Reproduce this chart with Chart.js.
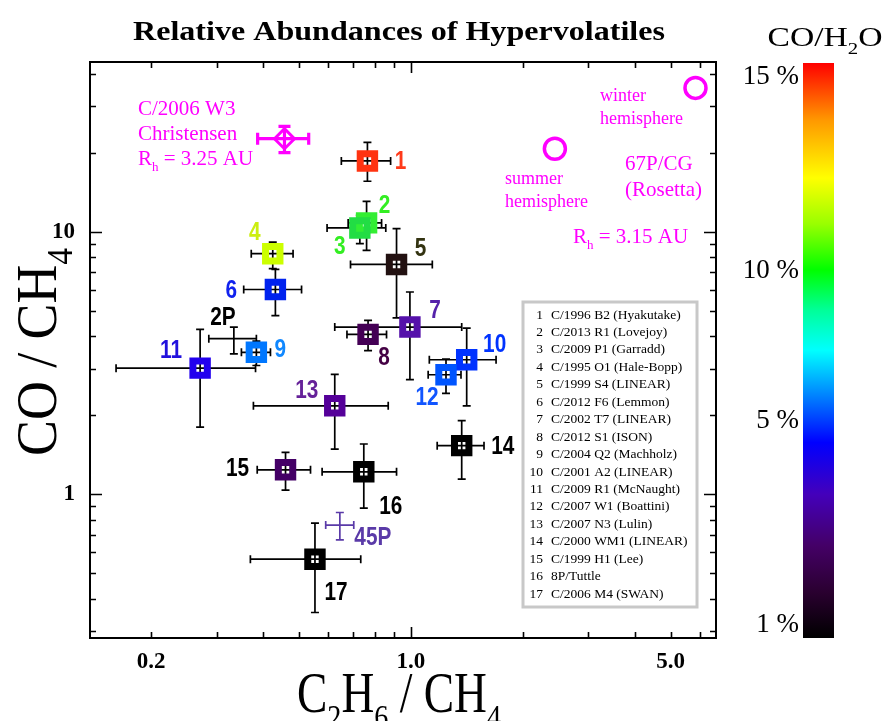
<!DOCTYPE html>
<html><head><meta charset="utf-8">
<script src="https://cdn.jsdelivr.net/npm/chart.js@4.4.0/dist/chart.umd.min.js"></script>
<style>html,body{margin:0;padding:0;background:#fff;}#wrap{width:886px;height:721px;position:relative;}</style>
</head><body><div id="wrap"><canvas id="c" width="886" height="721"></canvas></div>
<script>
// ---------------- DATA ----------------
const cometIds = ['1','2','3','4','5','6','7','8','9','10','11','12','13','14','15','16','17'];
const cometNames = ['C/1996 B2 (Hyakutake)','C/2013 R1 (Lovejoy)','C/2009 P1 (Garradd)','C/1995 O1 (Hale-Bopp)',
  'C/1999 S4 (LINEAR)','C/2012 F6 (Lemmon)','C/2002 T7 (LINEAR)','C/2012 S1 (ISON)','C/2004 Q2 (Machholz)',
  'C/2001 A2 (LINEAR)','C/2009 R1 (McNaught)','C/2007 W1 (Boattini)','C/2007 N3 (Lulin)','C/2000 WM1 (LINEAR)',
  'C/1999 H1 (Lee)','8P/Tuttle','C/2006 M4 (SWAN)'];
const c2h6   = [0.764,0.760,0.729,0.425,0.915,0.432,0.994,0.767,0.384,1.413,0.271,1.243,0.624,1.370,0.460,0.747,0.552];
const c2h6Lo = [0.650,0.678,0.595,0.372,0.688,0.355,0.624,0.673,0.350,1.121,0.161,1.113,0.377,1.177,0.386,0.577,0.370];
const c2h6Hi = [0.882,0.834,0.856,0.482,1.142,0.508,1.370,0.860,0.419,1.695,0.382,1.364,0.869,1.573,0.537,0.915,0.733];
const coCh4   = [18.6,10.8,10.33,8.24,7.50,6.02,4.33,4.06,3.47,3.25,3.02,2.85,2.17,1.53,1.238,1.216,0.565];
const coCh4Lo = [15.56,8.48,9.00,7.23,4.69,4.79,2.73,3.52,3.09,2.17,1.80,2.42,1.485,1.141,1.036,0.884,0.354];
const coCh4Hi = [21.9,13.05,11.54,9.13,10.27,7.18,5.89,4.59,3.83,4.29,4.24,3.27,2.86,1.905,1.443,1.552,0.775];

const extraIds = ['2P','45P'];
const extraX   = [0.334,0.644];
const extraXLo = [0.286,0.590];
const extraXHi = [0.384,0.702];
const extraY   = [3.91,0.762];
const extraYLo = [3.42,0.669];
const extraYHi = [4.33,0.851];

const christensenLines = ['C/2006 W3','Christensen'];
const christX = [0.457], christXLo = [0.387], christXHi = [0.531];
const christY = [22.6],  christYLo = [20.0],  christYHi = [25.2];

const rosettaNames = ['summer hemisphere','winter hemisphere'];
const rosettaX = [2.44,5.83];
const rosettaY = [20.7,35.3];

const xTickValues = [0.2,0.3,0.4,0.5,0.6,0.7,0.8,0.9,1,2,3,4,5,6];
const xTickLabels = {0.2:'0.2',1:'1.0',5:'5.0'};
const yTickValues = [0.3,0.4,0.5,0.6,0.7,0.8,0.9,1,2,3,4,5,6,7,8,9,10,20,30,40];
const yTickLabels = {1:'1',10:'10'};
const colorbarTickLabels = ['1 %','5 %','10 %','15 %'];

// ---------------- STYLE ----------------
const W = 886, H = 721;
const AREA = {left:90, right:716, top:62, bottom:638};
const serif = "'Liberation Serif','Times New Roman',serif";
const sans = "'Liberation Sans',Arial,sans-serif";
const MAG = '#ff00ff';
const markerColors = ['#ff3311','#33ee33','#22dd44','#ccff00','#221111','#0022ee','#5511aa','#440055','#0077ff',
  '#0033ff','#2200ee','#0055ff','#550099','#000000','#440066','#000000','#000000'];
const labelColors = ['#ff3a1a','#33ee22','#33ee22','#ccee11','#333311','#1122ee','#5522aa','#440044','#1188ff',
  '#0033ff','#2211dd','#1155ff','#662299','#000000','#000000','#000000','#000000'];
const labelOffsets = [[33,0],[18,-18],[-20,18],[-18,-22],[24,-17],[-44,0],[25,-17],[16,22],[24,-3],[28,-16],
  [-29,-18],[-19,22],[-28,-16],[41,0],[-48,-2],[27,34],[21,33]];
const extraColors = ['#000000','#5a3aa8'];
const extraOffsets = [[-11,-22],[33,12]];
const cbar = {left:803, right:834, top:63, bottom:638};
const cbarFrac = [0.022,0.378,0.639,0.975];
const cbarStops = [[0,'#000000'],[0.08,'#2a0030'],[0.16,'#440066'],[0.25,'#4400bb'],[0.34,'#0000ff'],[0.42,'#0080ff'],
  [0.50,'#00ffff'],[0.57,'#00ff99'],[0.64,'#00ff00'],[0.72,'#99ff00'],[0.80,'#ffff00'],[0.90,'#ff9900'],[1,'#ff0000']];

function drawParts(ctx, parts, x, y, size, o) {
  ctx.save();
  const wt = o.bold ? 'bold ' : '';
  let w = 0; const meas = [];
  for (const [t, k] of parts) {
    const s = k === 'sub' ? size * 0.62 : size;
    ctx.font = wt + s + 'px ' + o.family;
    const m = ctx.measureText(t).width; meas.push([t, k, s, m]); w += m;
  }
  const sx = o.width ? o.width / w : (o.sx || 1);
  ctx.translate(x, y); if (o.rotate) ctx.rotate(o.rotate);
  ctx.scale(sx, 1);
  let cx = o.align === 'left' ? 0 : (o.align === 'right' ? -w : -w / 2);
  ctx.textBaseline = 'alphabetic'; ctx.textAlign = 'left'; ctx.fillStyle = o.color || '#000';
  for (const [t, k, s, m] of meas) {
    ctx.font = wt + s + 'px ' + o.family;
    ctx.fillText(t, cx, k === 'sub' ? size * 0.28 : 0); cx += m;
  }
  ctx.restore();
}

const errorBars = {
  id: 'errorBars',
  beforeDatasetsDraw(chart) {
    const ctx = chart.ctx, xs = chart.scales.x, ys = chart.scales.y;
    chart.data.datasets.forEach(ds => {
      if (!ds.err) return;
      ctx.save();
      ctx.lineWidth = ds.errWidth; ctx.lineCap = 'butt';
      ds.data.forEach((p, i) => {
        ctx.strokeStyle = Array.isArray(ds.errColor) ? ds.errColor[i] : ds.errColor;
        const px = xs.getPixelForValue(p.x), py = ys.getPixelForValue(p.y);
        const x0 = xs.getPixelForValue(ds.err.xLo[i]), x1 = xs.getPixelForValue(ds.err.xHi[i]);
        const y0 = ys.getPixelForValue(ds.err.yLo[i]), y1 = ys.getPixelForValue(ds.err.yHi[i]);
        const c = ds.cap;
        ctx.beginPath();
        ctx.moveTo(x0, py); ctx.lineTo(x1, py);
        ctx.moveTo(px, y0); ctx.lineTo(px, y1);
        ctx.moveTo(x0, py - c); ctx.lineTo(x0, py + c);
        ctx.moveTo(x1, py - c); ctx.lineTo(x1, py + c);
        ctx.moveTo(px - c, y0); ctx.lineTo(px + c, y0);
        ctx.moveTo(px - c, y1); ctx.lineTo(px + c, y1);
        ctx.stroke();
      });
      ctx.restore();
    });
  }
};

const decorations = {
  id: 'decorations',
  afterDatasetsDraw(chart) {
    const ctx = chart.ctx, xs = chart.scales.x, ys = chart.scales.y;
    ctx.save();
    const lab = (t, x, y, col) => {
      ctx.save(); ctx.translate(x, y); ctx.scale(0.8, 1);
      ctx.font = 'bold 26px ' + sans; ctx.textAlign = 'center'; ctx.textBaseline = 'middle';
      ctx.fillStyle = col; ctx.fillText(t, 0, 1); ctx.restore();
    };
    cometIds.forEach((t, i) => {
      lab(t, xs.getPixelForValue(c2h6[i]) + labelOffsets[i][0], ys.getPixelForValue(coCh4[i]) + labelOffsets[i][1], labelColors[i]);
    });
    extraIds.forEach((t, i) => {
      lab(t, xs.getPixelForValue(extraX[i]) + extraOffsets[i][0], ys.getPixelForValue(extraY[i]) + extraOffsets[i][1], extraColors[i]);
    });
    ctx.restore();
    ctx.save();
    ctx.fillStyle = MAG; ctx.textBaseline = 'alphabetic'; ctx.textAlign = 'left';
    ctx.font = '21px ' + serif;
    ctx.fillText(christensenLines[0], 138, 115);
    ctx.fillText(christensenLines[1], 138, 140);
    drawParts(ctx, [['R','n'],['h','sub'],[' = 3.25 AU','n']], 138, 165, 21, {family: serif, color: MAG, align: 'left'});
    ctx.font = '18px ' + serif;
    const w = rosettaNames[1].split(' '), s = rosettaNames[0].split(' ');
    ctx.fillText(w[0], 600, 101); ctx.fillText(w[1], 600, 124);
    ctx.fillText(s[0], 505, 184); ctx.fillText(s[1], 505, 207);
    ctx.font = '21px ' + serif;
    ctx.fillText('67P/CG', 625, 170); ctx.fillText('(Rosetta)', 625, 196);
    drawParts(ctx, [['R','n'],['h','sub'],[' = 3.15 AU','n']], 573, 243, 21, {family: serif, color: MAG, align: 'left'});
    ctx.restore();
  },
  afterDraw(chart) {
    const ctx = chart.ctx, xs = chart.scales.x, ys = chart.scales.y, a = chart.chartArea;
    ctx.save();
    ctx.strokeStyle = '#000'; ctx.lineWidth = 2;
    ctx.strokeRect(a.left, a.top, a.right - a.left, a.bottom - a.top);
    ctx.lineWidth = 1.6;
    ctx.beginPath();
    xTickValues.forEach(v => {
      const p = Math.round(xs.getPixelForValue(v)) + 0.5, L = (v === 1) ? 11 : 6;
      ctx.moveTo(p, a.bottom); ctx.lineTo(p, a.bottom - L);
      ctx.moveTo(p, a.top); ctx.lineTo(p, a.top + L);
    });
    yTickValues.forEach(v => {
      const p = Math.round(ys.getPixelForValue(v)) + 0.5, L = (v === 1 || v === 10) ? 12 : 6;
      ctx.moveTo(a.left, p); ctx.lineTo(a.left + L, p);
      ctx.moveTo(a.right, p); ctx.lineTo(a.right - L, p);
    });
    ctx.stroke();
    ctx.strokeStyle = '#c8c8c8'; ctx.lineWidth = 3;
    ctx.fillStyle = '#fff';
    ctx.fillRect(523, 302, 174, 305);
    ctx.strokeRect(523, 302, 174, 305);
    ctx.fillStyle = '#000'; ctx.font = '13.5px ' + serif; ctx.textBaseline = 'middle';
    cometNames.forEach((n, i) => {
      const y = 315 + i * 17.45;
      ctx.textAlign = 'right'; ctx.fillText(cometIds[i], 543, y);
      ctx.textAlign = 'left'; ctx.fillText(n, 551, y);
    });
    drawParts(ctx, [['Relative Abundances of Hypervolatiles','n']], 399, 40, 28, {family: serif, bold: true, width: 532});
    drawParts(ctx, [['C','n'],['2','sub'],['H','n'],['6','sub'],[' / CH','n'],['4','sub']], 399, 712, 56, {family: serif, width: 204});
    drawParts(ctx, [['CO / CH','n'],['4','sub']], 56, 352, 58, {family: serif, rotate: -Math.PI / 2, width: 208});
    const g = ctx.createLinearGradient(0, cbar.bottom, 0, cbar.top);
    cbarStops.forEach(([f, c]) => g.addColorStop(f, c));
    ctx.fillStyle = g;
    ctx.fillRect(cbar.left, cbar.top, cbar.right - cbar.left, cbar.bottom - cbar.top);
    ctx.fillStyle = '#000'; ctx.font = '27px ' + serif; ctx.textAlign = 'right'; ctx.textBaseline = 'middle';
    colorbarTickLabels.forEach((t, i) => {
      const y = cbar.bottom - cbarFrac[i] * (cbar.bottom - cbar.top);
      ctx.fillText(t, 799, y);
    });
    drawParts(ctx, [['CO/H','n'],['2','sub'],['O','n']], 825, 46, 28, {family: serif, width: 115});
    ctx.restore();
  }
};

const pts = (xa, ya) => xa.map((x, i) => ({x, y: ya[i]}));

new Chart(document.getElementById('c'), {
  type: 'scatter',
  data: {
    datasets: [
      {label: 'Comets', data: pts(c2h6, coCh4), pointStyle: 'rect', pointRadius: 10.2, pointBorderWidth: 7,
       pointBackgroundColor: 'rgba(0,0,0,0)', pointBorderColor: markerColors,
       err: {xLo: c2h6Lo, xHi: c2h6Hi, yLo: coCh4Lo, yHi: coCh4Hi}, errColor: '#000', errWidth: 1.7, cap: 4},
      {label: 'Other', data: pts(extraX, extraY), pointRadius: 0,
       err: {xLo: extraXLo, xHi: extraXHi, yLo: extraYLo, yHi: extraYHi}, errColor: extraColors, errWidth: 1.7, cap: 4},
      {label: 'C/2006 W3', data: pts(christX, christY), pointStyle: 'rectRot', pointRadius: 10, pointBorderWidth: 3,
       pointBackgroundColor: 'rgba(0,0,0,0)', pointBorderColor: MAG,
       err: {xLo: christXLo, xHi: christXHi, yLo: christYLo, yHi: christYHi}, errColor: MAG, errWidth: 3.2, cap: 6},
      {label: '67P/CG', data: pts(rosettaX, rosettaY), pointStyle: 'circle', pointRadius: 10.5, pointBorderWidth: 3.5,
       pointBackgroundColor: 'rgba(0,0,0,0)', pointBorderColor: MAG}
    ]
  },
  options: {
    responsive: false, animation: false, devicePixelRatio: 1,
    layout: {padding: {left: 0, right: W - AREA.right, top: AREA.top, bottom: H - AREA.bottom - 50}},
    plugins: {legend: {display: false}, tooltip: {enabled: false}, title: {display: false}},
    scales: {
      x: {type: 'logarithmic', min: 0.137, max: 6.62, position: 'bottom',
          afterBuildTicks: s => { s.ticks = xTickValues.map(v => ({value: v})); },
          afterFit: s => { s.height = 50; },
          grid: {display: false, drawTicks: false}, border: {display: false},
          ticks: {autoSkip: false, maxRotation: 0, minRotation: 0, padding: 10, color: '#000',
                  font: {family: serif, weight: 'bold', size: 23},
                  callback: v => xTickLabels[v] || ''}},
      y: {type: 'logarithmic', min: 0.283, max: 44.3, position: 'left',
          afterBuildTicks: s => { s.ticks = yTickValues.map(v => ({value: v})); },
          afterFit: s => { s.width = AREA.left; },
          grid: {display: false, drawTicks: false}, border: {display: false},
          ticks: {autoSkip: false, padding: 15, color: '#000',
                  font: {family: serif, weight: 'bold', size: 23},
                  callback: v => yTickLabels[v] || ''}}
    }
  },
  plugins: [errorBars, decorations]
});
</script></body></html>
